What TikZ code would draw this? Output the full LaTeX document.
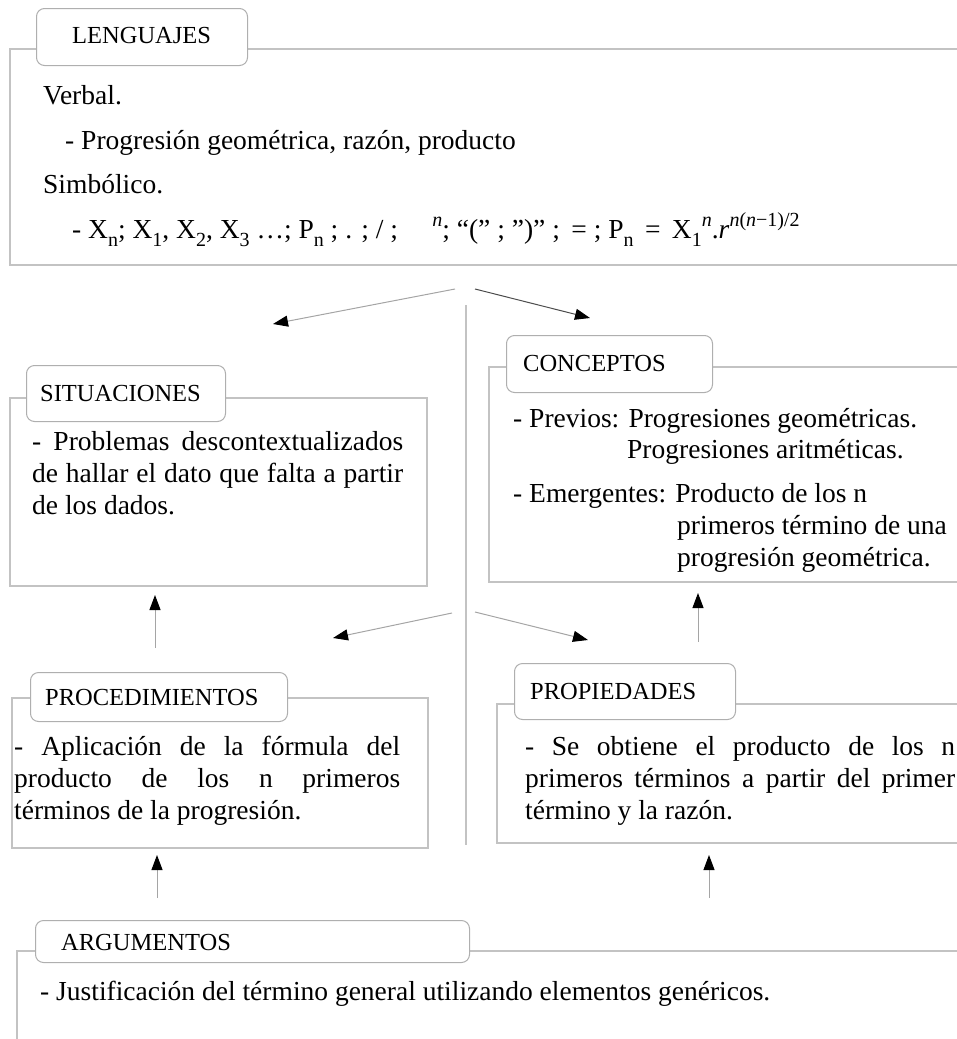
\documentclass[tikz,border=0pt]{standalone}
\usepackage{fontspec}
\setmainfont{Liberation Serif}
\usetikzlibrary{arrows.meta}

\definecolor{framegray}{RGB}{195,195,195}
\definecolor{tabgray}{RGB}{175,175,175}
\definecolor{linkgray}{RGB}{165,165,165}

\newcommand{\bodyfont}{\fontsize{27.5}{31.5}\selectfont}
\newcommand{\labelfont}{\fontsize{24.5}{28}\selectfont}
% a line of justified text stretched to a given width
\newcommand{\jline}[2]{\makebox[#1][s]{#2}}
% large lowered and raised indices for the symbolic line
\newcommand{\fsub}[1]{\raisebox{-0.3em}{\fontsize{20}{20}\selectfont #1}}
\newcommand{\fsup}[1]{\raisebox{0.42em}{\fontsize{20}{20}\selectfont #1}}

\begin{document}
\begin{tikzpicture}[x=1pt,y=-1pt,
  frame/.style={draw=framegray,line width=1.2pt},
  tab/.style={draw=tabgray,fill=white,rounded corners=8pt,line width=1pt,
              anchor=north west,inner sep=0pt},
  lbl/.style={font=\labelfont,anchor=base west,inner sep=0pt},
  txt/.style={font=\bodyfont,anchor=base west,inner sep=0pt},
  link/.style={draw=linkgray,line width=1pt,
               -{Triangle[length=15pt,width=11pt,color=black]}},
  darklink/.style={link,draw=black!70}]
\useasboundingbox (0,0) rectangle (957,1039);

% ---------- frames ----------
\draw[frame] (957,49) -| (10,265) -- (957,265);
\draw[frame] (10,398) rectangle (427,586);
\draw[frame] (957,367) -| (489,582) -- (957,582);
\draw[frame] (12,698) rectangle (428,848);
\draw[frame] (957,704) -| (497,843) -- (957,843);
\draw[frame] (957,951) -| (17,1045);
\draw[frame] (466,305) -- (466,845);

% ---------- title tabs ----------
\node[tab,minimum width=211pt,minimum height=57pt] (lt) at (36,8) {};
\node[lbl] (ltl) at (72,43) {LENGUAJES};
\node[tab,minimum width=199pt,minimum height=56pt] (st) at (26,365) {};
\node[lbl] (stl) at (40,401) {SITUACIONES};
\node[tab,minimum width=206pt,minimum height=57pt] (ct) at (506,335) {};
\node[lbl] (ctl) at (523,371) {CONCEPTOS};
\node[tab,minimum width=257pt,minimum height=49pt] (pt) at (30,672) {};
\node[lbl] (ptl) at (45,705) {PROCEDIMIENTOS};
\node[tab,minimum width=221pt,minimum height=56pt] (qt) at (514,663) {};
\node[lbl] (qtl) at (530,699) {PROPIEDADES};
\node[tab,minimum width=434pt,minimum height=42pt] (at) at (35,920) {};
\node[lbl] (atl) at (61,950) {ARGUMENTOS};

% ---------- lenguajes ----------
\node[txt] (l1) at (43,104) {Verbal.};
\node[txt] (l2) at (65,149) {- Progresión geométrica, razón, producto};
\node[txt] (l3) at (43,193) {Simbólico.};
\node[txt] (l4) at (72,238) {- X\fsub{n}; X\fsub{1}, X\fsub{2}, X\fsub{3} …; P\fsub{n} ; . ; / ; \quad\fsup{\itshape n}; “(” ; ”)” ;\, = ; P\fsub{n}\, =\, X\fsub{1}\fsup{\itshape n}.\textit{r}\fsup{\textit{n}(\textit{n}−1)/2}};

% ---------- situaciones ----------
\node[txt] (s1) at (32,450) {\jline{371pt}{- Problemas descontextualizados}};
\node[txt] (s2) at (32,482) {\jline{371pt}{de hallar el dato que falta a partir}};
\node[txt] (s3) at (32,514) {de los dados.};

% ---------- conceptos ----------
\node[txt] (c1) at (513,427) {- Previos: Progresiones geométricas.};
\node[txt] (c2) at (627,458) {Progresiones aritméticas.};
\node[txt] (c3) at (513,502) {- Emergentes: Producto de los n};
\node[txt] (c4) at (677,534) {primeros término de una};
\node[txt] (c5) at (677,566) {progresión geométrica.};

% ---------- procedimientos ----------
\node[txt] (p1) at (14,755) {\jline{386pt}{- Aplicación de la fórmula del}};
\node[txt] (p2) at (14,787) {\jline{386pt}{producto de los n primeros}};
\node[txt] (p3) at (14,819) {términos de la progresión.};

% ---------- propiedades ----------
\node[txt] (q1) at (525,755) {\jline{430pt}{- Se obtiene el producto de los n}};
\node[txt] (q2) at (525,787) {\jline{430pt}{primeros términos a partir del primer}};
\node[txt] (q3) at (525,819) {término y la razón.};

% ---------- argumentos ----------
\node[txt] (a1) at (40,1000) {- Justificación del término general utilizando elementos genéricos.};

% ---------- connectors ----------
\coordinate (t0l) at (455,289); \coordinate (t1l) at (273,324);
\coordinate (t0r) at (475,289); \coordinate (t1r) at (590,318);
\coordinate (m0l) at (452,613); \coordinate (m1l) at (333,638);
\coordinate (m0r) at (475,612); \coordinate (m1r) at (588,640);
\coordinate (u0a) at (155,648); \coordinate (u1a) at (155,595);
\coordinate (u0b) at (698,642); \coordinate (u1b) at (698,593);
\coordinate (u0c) at (157,898); \coordinate (u1c) at (157,855);
\coordinate (u0d) at (709,898); \coordinate (u1d) at (709,855);

\draw[link] (t0l) -- (t1l);
\draw[darklink] (t0r) -- (t1r);
\draw[link] (m0l) -- (m1l);
\draw[link] (m0r) -- (m1r);
\draw[link] (u0a) -- (u1a);
\draw[link] (u0b) -- (u1b);
\draw[link] (u0c) -- (u1c);
\draw[link] (u0d) -- (u1d);
\end{tikzpicture}
\end{document}
